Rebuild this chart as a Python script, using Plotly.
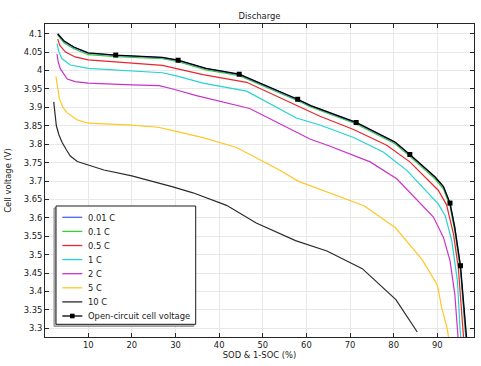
import plotly.graph_objects as go

# ---------------- data ----------------
x_ticks = [10, 20, 30, 40, 50, 60, 70, 80, 90]
y_ticks = [3.3, 3.35, 3.4, 3.45, 3.5, 3.55, 3.6, 3.65, 3.7, 3.75, 3.8, 3.85,
           3.9, 3.95, 4.0, 4.05, 4.1]
y_tick_labels = ["3.3", "3.35", "3.4", "3.45", "3.5", "3.55", "3.6", "3.65", "3.7",
                 "3.75", "3.8", "3.85", "3.9", "3.95", "4", "4.05", "4.1"]

series_names = ["0.01 C", "0.1 C", "0.5 C", "1 C", "2 C", "5 C", "10 C"]
ocv_name = "Open-circuit cell voltage"

sod_ocv = [3.0, 4.5, 6.7, 10, 16.3, 27, 30.6, 37, 44.6, 47, 58, 61, 67, 71.4, 80.3,
           83.7, 89.5, 91.4, 92.9, 94, 95.3, 96.5, 96.8]
v_ocv = [4.100, 4.080, 4.064, 4.048, 4.042, 4.036, 4.028, 4.006, 3.990, 3.978, 3.922,
         3.905, 3.878, 3.859, 3.806, 3.772, 3.711, 3.685, 3.640, 3.574, 3.470, 3.298, 3.26]

ocv_marker_sod = [16.3, 30.6, 44.6, 58.0, 71.4, 83.7, 92.9, 95.3]
ocv_marker_v = [4.042, 4.028, 3.990, 3.922, 3.859, 3.772, 3.640, 3.470]

sod_001 = [3.0, 4.5, 6.7, 10, 16.3, 27, 30.6, 37, 44.6, 47, 58, 61, 67, 71.4, 80.3,
           83.7, 89.5, 91.4, 92.9, 94, 95.3, 96.4, 96.7]
v_001 = [4.099, 4.079, 4.063, 4.047, 4.041, 4.035, 4.027, 4.005, 3.989, 3.977, 3.921,
         3.904, 3.877, 3.858, 3.805, 3.771, 3.710, 3.684, 3.639, 3.572, 3.467, 3.298, 3.26]

sod_01 = [3.0, 4.5, 6.7, 10, 16.3, 27, 30.6, 37, 44.6, 47, 58, 61, 67, 71.4, 80.3,
          83.7, 89.5, 91.4, 92.9, 94, 95.3, 96.3, 96.6]
v_01 = [4.096, 4.075, 4.059, 4.043, 4.038, 4.032, 4.024, 4.002, 3.986, 3.974, 3.918,
        3.901, 3.874, 3.855, 3.801, 3.767, 3.705, 3.678, 3.632, 3.563, 3.455, 3.298, 3.26]

sod_05 = [3.0, 3.5, 4.8, 7, 10, 20, 27, 30, 36.3, 46.3, 57.7, 63.1, 70.8, 78.4, 83.7,
          90.2, 92.1, 93.7, 94.8, 95.8, 96.1]
v_05 = [4.086, 4.068, 4.050, 4.037, 4.029, 4.020, 4.014, 4.006, 3.989, 3.968, 3.905,
        3.876, 3.840, 3.797, 3.752, 3.675, 3.636, 3.556, 3.465, 3.298, 3.26]

sod_1 = [2.85, 3.3, 4.0, 5.9, 10, 20, 27, 30, 36.3, 46.3, 57.7, 63.1, 70.8, 77.6, 83,
         90.2, 91.8, 93.3, 94.6, 95.2, 95.5]
v_1 = [4.073, 4.050, 4.032, 4.015, 4.006, 4.000, 3.994, 3.986, 3.966, 3.944, 3.871,
       3.852, 3.818, 3.779, 3.729, 3.638, 3.606, 3.538, 3.429, 3.298, 3.26]

sod_2 = [2.85, 3.1, 3.6, 5.2, 7, 10, 20, 26.3, 29.4, 34.8, 47, 60.8, 65.3, 74.6, 80.7,
         89.1, 91.4, 92.9, 94.0, 94.6, 94.9]
v_2 = [4.045, 4.025, 4.005, 3.977, 3.970, 3.966, 3.961, 3.959, 3.950, 3.932, 3.897,
       3.814, 3.795, 3.752, 3.706, 3.602, 3.547, 3.484, 3.393, 3.298, 3.25]

sod_5 = [2.6, 3.0, 3.4, 4.2, 5.2, 7.5, 10, 20, 26, 29.4, 36.3, 44, 53.8, 58.2, 65.3,
         73.2, 80.4, 86.6, 90, 91, 92.3, 92.6]
v_5 = [3.984, 3.950, 3.923, 3.900, 3.885, 3.866, 3.857, 3.852, 3.846, 3.837, 3.818,
       3.791, 3.730, 3.699, 3.668, 3.633, 3.573, 3.485, 3.418, 3.356, 3.298, 3.27]

sod_10 = [2.1, 2.4, 2.7, 3.3, 4.0, 5.0, 5.9, 7.5, 10, 13.6, 20, 25.2, 29.4, 34, 41.7,
          48.5, 57.5, 64.7, 72.8, 80.5, 85.0, 85.4]
v_10 = [3.915, 3.875, 3.850, 3.825, 3.805, 3.785, 3.768, 3.753, 3.743, 3.730, 3.714,
        3.698, 3.684, 3.668, 3.634, 3.586, 3.538, 3.510, 3.462, 3.378, 3.298, 3.29]

# ---------------- styles ----------------
colors = ["#4a66ff", "#36cc36", "#e8262b", "#25d2d2", "#c832c8", "#ffc726", "#2b2b2b"]
ocv_color = "#000000"
FONT = "DejaVu Sans"
FS = 8.4

W, H = 481, 366
ML, MR, MT, MB = 45, 7, 24, 29
PW, PH = W - ML - MR, H - MT - MB


def fx(px):
    return (px - ML) / PW


def fy(py):
    return (H - MB - py) / PH


fig = go.Figure()

curves = [(sod_10, v_10, 6), (sod_5, v_5, 5), (sod_2, v_2, 4), (sod_1, v_1, 3),
          (sod_05, v_05, 2), (sod_01, v_01, 1), (sod_001, v_001, 0)]
for xs, ys, i in curves:
    fig.add_trace(go.Scatter(x=xs, y=ys, mode="lines", name=series_names[i],
                             line=dict(color=colors[i], width=1.2),
                             showlegend=False, hoverinfo="skip"))

fig.add_trace(go.Scatter(x=sod_ocv, y=v_ocv, mode="lines", name=ocv_name,
                         line=dict(color=ocv_color, width=1.3),
                         showlegend=False, hoverinfo="skip"))
fig.add_trace(go.Scatter(x=ocv_marker_sod, y=ocv_marker_v, mode="markers", name=ocv_name,
                         marker=dict(symbol="square", size=5, color=ocv_color),
                         showlegend=False, hoverinfo="skip"))

# ---------------- custom legend (compact rows) ----------------
shapes = []
annotations = []
bx0, bx1, by0, by1 = 56, 195.7, 206, 324.3
shapes.append(dict(type="rect", xref="paper", yref="paper", layer="above",
                   x0=fx(bx0 - 2), x1=fx(bx1 - 2), y0=fy(by0 + 2), y1=fy(by1 + 2),
                   line=dict(color="#8a8a8a", width=1), fillcolor="#bdbdbd"))
shapes.append(dict(type="rect", xref="paper", yref="paper", layer="above",
                   x0=fx(bx0), x1=fx(bx1), y0=fy(by0), y1=fy(by1),
                   line=dict(color="#1a1a1a", width=1), fillcolor="white"))
row0, row_step = 217.3, 14.1
lx0, lx1, tx = 62.3, 82.3, 86.2
legend_entries = [(series_names[i], colors[i]) for i in range(7)] + [(ocv_name, ocv_color)]
for k, (name, col) in enumerate(legend_entries):
    ry = row0 + k * row_step
    shapes.append(dict(type="line", xref="paper", yref="paper", layer="above",
                       x0=fx(lx0), x1=fx(lx1), y0=fy(ry), y1=fy(ry),
                       line=dict(color=col, width=1.3)))
    annotations.append(dict(xref="paper", yref="paper", x=fx(tx), y=fy(ry + 0.3),
                            xanchor="left", yanchor="middle", text=name, showarrow=False,
                            font=dict(family=FONT, size=FS, color="#1a1a1a")))
    if name == ocv_name:
        mx = (lx0 + lx1) / 2
        shapes.append(dict(type="rect", xref="paper", yref="paper", layer="above",
                           x0=fx(mx - 2.3), x1=fx(mx + 2.3), y0=fy(ry + 2.3), y1=fy(ry - 2.3),
                           line=dict(color=ocv_color, width=0), fillcolor=ocv_color))

axis_common = dict(showline=True, linecolor="#262626", linewidth=1, mirror="allticks",
                   ticks="inside", ticklen=4, tickcolor="#262626", tickwidth=1,
                   showgrid=True, gridcolor="#e8e8e8", gridwidth=1, zeroline=False,
                   automargin=False,
                   tickfont=dict(family=FONT, size=FS, color="#1a1a1a"))

fig.update_layout(
    width=W, height=H,
    margin=dict(l=ML, r=MR, t=MT, b=MB, pad=0),
    paper_bgcolor="white", plot_bgcolor="white",
    title=dict(text="Discharge", x=0.5, xref="paper", xanchor="center",
               y=(H - 16.5) / H, yref="container", yanchor="middle",
               font=dict(family=FONT, size=FS, color="#1a1a1a")),
    xaxis=dict(range=[0.1, 98.4], tickvals=x_ticks,
               title=dict(text="SOD & 1-SOC (%)", standoff=2,
                          font=dict(family=FONT, size=FS, color="#1a1a1a")),
               **axis_common),
    yaxis=dict(range=[3.2764, 4.1264], tickvals=y_ticks, ticktext=y_tick_labels,
               title=dict(text="Cell voltage (V)", standoff=10,
                          font=dict(family=FONT, size=FS, color="#1a1a1a")),
               **axis_common),
    shapes=shapes,
    annotations=annotations,
    showlegend=False,
    hovermode=False,
)

fig.write_html("out.html",
               config={"displayModeBar": False, "staticPlot": True},
               post_script="document.body.style.margin='0px';"
                           "document.body.style.overflow='hidden';")
